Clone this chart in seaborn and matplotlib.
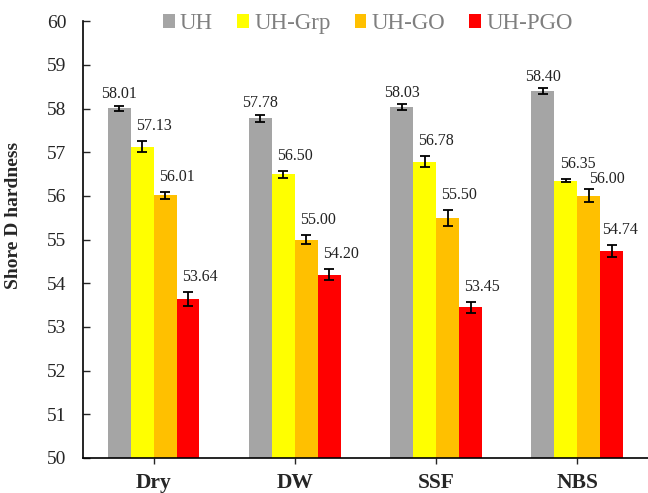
import numpy as np
import pandas as pd
import matplotlib
matplotlib.use("Agg")
import matplotlib.pyplot as plt
import seaborn as sns

# Conditions, sample series and measured values
conditions = ["Dry", "DW", "SSF", "NBS"]
samples = ["UH", "UH-Grp", "UH-GO", "UH-PGO"]
uh = [58.01, 57.78, 58.03, 58.40]
uh_grp = [57.13, 56.50, 56.78, 56.35]
uh_go = [56.01, 55.00, 55.50, 56.00]
uh_pgo = [53.64, 54.20, 53.45, 54.74]

# Standard deviations
uh_sd = [0.055, 0.08, 0.07, 0.07]
uh_grp_sd = [0.12, 0.08, 0.125, 0.03]
uh_go_sd = [0.07, 0.11, 0.18, 0.15]
uh_pgo_sd = [0.16, 0.135, 0.13, 0.14]

colors = ["#A5A5A5", "#FFFF00", "#FFC000", "#FF0000"]

values = [uh, uh_grp, uh_go, uh_pgo]
sds = [uh_sd, uh_grp_sd, uh_go_sd, uh_pgo_sd]
rows = []
for s, vals, errs in zip(samples, values, sds):
    for c, v, e in zip(conditions, vals, errs):
        rows.append({"Condition": c, "Sample": s, "Hardness": v, "SD": e})
df = pd.DataFrame(rows)

sns.set_style("white")
plt.rcParams["font.family"] = ["Liberation Serif", "DejaVu Serif"]

fig = plt.figure(figsize=(6.48, 4.93), dpi=100)
ax = fig.add_axes([0.128, 0.071, 0.872, 0.886])

sns.barplot(data=df, x="Condition", y="Hardness", hue="Sample",
            order=conditions, hue_order=samples, palette=colors,
            errorbar=None, width=0.65, saturation=1, linewidth=0,
            ax=ax)

# Label nudges (points): first series sits centred, the rest to the right
label_nudge = {("NBS", "UH-GO"): (13, 2), ("NBS", "UH-PGO"): (6, 5)}

# Error bars and value labels on each bar
for container, s in zip(ax.containers, samples):
    sub = df[df["Sample"] == s].set_index("Condition").loc[conditions]
    for bar, c, v, e in zip(container, conditions, sub["Hardness"], sub["SD"]):
        xc = bar.get_x() + bar.get_width() / 2
        ax.errorbar(xc, v, yerr=e, fmt="none", ecolor="black",
                    elinewidth=1.3, capsize=3.5, capthick=1.3, zorder=5)
        dx, dy = (0, 2.5) if s == samples[0] else (8.5, 5)
        dx, dy = label_nudge.get((c, s), (dx, dy))
        ax.annotate(f"{v:.2f}", xy=(xc, v + e), xytext=(dx, dy),
                    textcoords="offset points", ha="center", va="bottom",
                    fontsize=11.5, color="#222222")

ax.set_ylim(50, 60)
ax.set_xlim(-0.5, 3.5)
ax.set_yticks(np.arange(50, 61, 1))
ax.set_xlabel("")
ax.set_ylabel("Shore D hardness", fontsize=14, fontweight="bold")
ax.yaxis.set_label_coords(-0.108, 0.556)

for lab in ax.get_xticklabels():
    lab.set_fontweight("bold")
ax.tick_params(axis="x", labelsize=15.5, direction="out", length=4,
               width=1, bottom=True, pad=7)
ax.tick_params(axis="y", labelsize=14, direction="in", length=5,
               width=1, left=True, pad=12)

for side in ["top", "right"]:
    ax.spines[side].set_visible(False)
for side in ["left", "bottom"]:
    ax.spines[side].set_color("black")
    ax.spines[side].set_linewidth(1.2)

handles, labels = ax.get_legend_handles_labels()
ax.legend(handles, labels, loc="center left",
          bbox_to_anchor=(163 / 648, 1 - 23.5 / 493),
          bbox_transform=fig.transFigure, ncol=4, frameon=False,
          fontsize=16.5, handlelength=0.52, handleheight=0.52,
          handletextpad=0.22, columnspacing=1.05, labelcolor="#7F7F7F",
          borderpad=0, borderaxespad=0)

fig.savefig("out.png", dpi=100)
